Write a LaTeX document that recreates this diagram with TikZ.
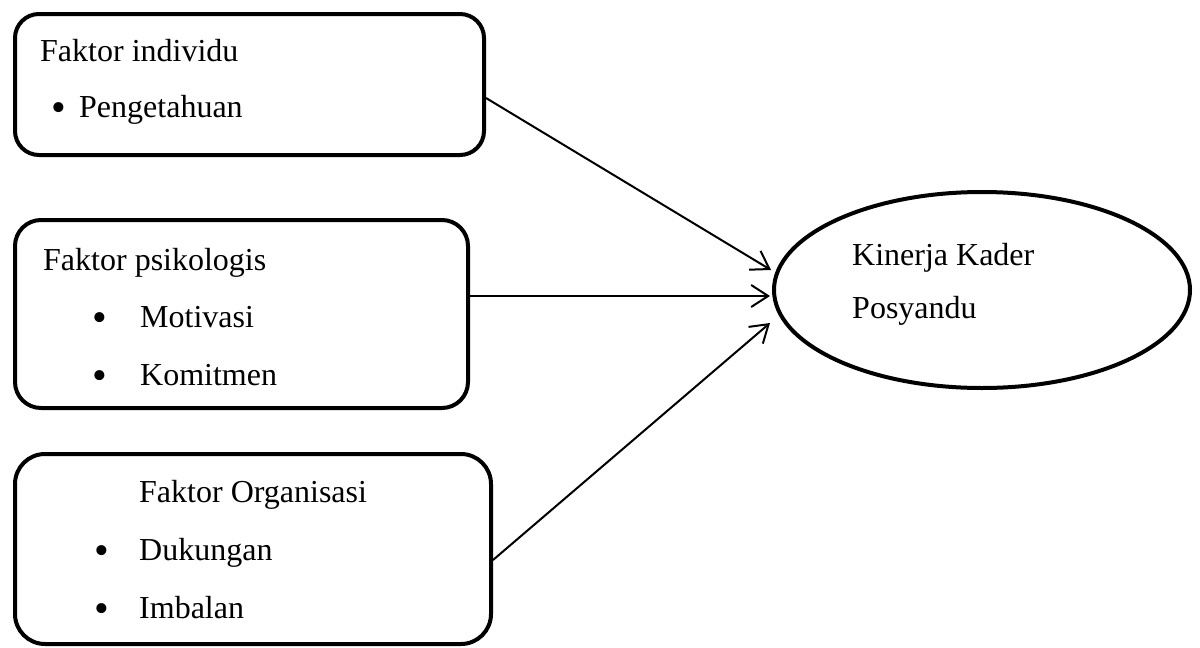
\documentclass[tikz,border=0pt]{standalone}
\usepackage{fontspec}
\setmainfont{Liberation Serif}
\usetikzlibrary{arrows.meta,shapes.geometric}
\newcommand{\blt}[1]{\makebox[#1][l]{\raisebox{-4pt}{\fontsize{42}{42}\selectfont\textbullet}}}
\begin{document}
\begin{tikzpicture}[x=1pt,y=-1pt,
  fbox/.style={draw,line width=4pt,rounded corners=#1,inner sep=0pt},
  oval/.style={draw,ellipse,line width=4pt,inner sep=0pt,minimum width=416pt,minimum height=196pt},
  txt/.style={anchor=base west,inner sep=0pt,font=\fontsize{32}{38}\selectfont},
  arr/.style={line width=2pt,-{Straight Barb[length=17pt,width=22pt,line width=2pt]}}]
\useasboundingbox (0,0) rectangle (1200,648);
\node[fbox=24pt,minimum width=469pt,minimum height=141pt] (b1) at (249.5,84.5) {};
\node[fbox=26pt,minimum width=453pt,minimum height=188pt] (b2) at (241.5,314) {};
\node[fbox=30pt,minimum width=476pt,minimum height=190pt] (b3) at (253,549) {};
\node[oval] (k) at (982,290) {};
\node[txt] (t1) at (40,61) {Faktor individu};
\node[txt] (t1a) at (51,117) {\blt{28pt}Pengetahuan};
\node[txt] (t2) at (43,270) {Faktor psikologis};
\node[txt] (t2a) at (92,327) {\blt{48pt}Motivasi};
\node[txt] (t2b) at (92,385) {\blt{48pt}Komitmen};
\node[txt] (t3) at (139,502) {Faktor Organisasi};
\node[txt] (t3a) at (94,560) {\blt{45pt}Dukungan};
\node[txt] (t3b) at (94,618) {\blt{45pt}Imbalan};
\node[txt] (k1) at (852,265) {Kinerja Kader};
\node[txt] (k2) at (852,318) {Posyandu};
\coordinate (e1) at (771,270);
\coordinate (e2) at (770,296);
\coordinate (e3) at (770,323);
\draw[arr] ([yshift=-13.5pt]b1.east) -- (e1);
\draw[arr] ([yshift=18pt]b2.east) -- (e2);
\draw[arr] ([yshift=-11pt]b3.east) -- (e3);
\end{tikzpicture}
\end{document}
